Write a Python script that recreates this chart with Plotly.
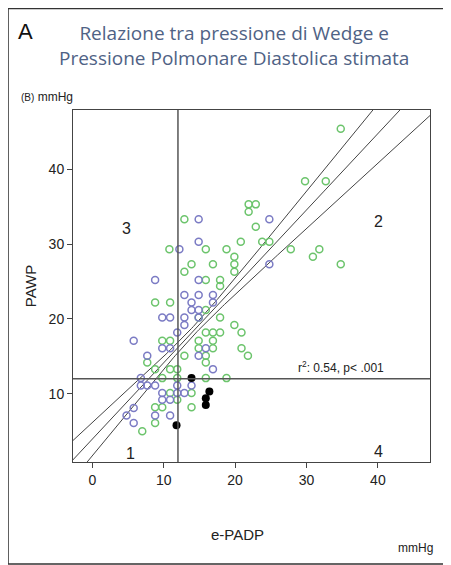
import numpy as np
import plotly.graph_objects as go

# green open circles (e-PADP, PAWP)
green_x = [34.8, 29.8, 32.7, 21.9, 22.9, 21.9, 12.9, 22.9, 10.8, 15.9, 18.8, 20.8, 23.8, 24.8,
           27.8, 30.9, 31.8, 34.8, 19.9, 19.9, 19.9, 13.9, 16.9, 12.9, 15.9, 17.9, 17.9,
           8.8, 10.9, 15.9, 17.9, 19.9, 20.9, 15.9, 16.9, 17.9, 9.8, 10.9, 14.9, 16.9,
           14.9, 16.9, 20.9, 21.8, 12.9, 15.9, 7.7, 15.9, 8.8, 10.9, 11.9, 9.8, 11.9,
           15.9, 18.8, 10.9, 13.9, 11.9, 8.8, 9.8, 13.9, 8.8, 7.0, 14.9]
green_y = [45.4, 38.4, 38.4, 35.3, 35.3, 34.3, 33.3, 32.3, 29.3, 29.3, 29.3, 30.3, 30.3, 30.3,
           29.3, 28.3, 29.3, 27.3, 28.3, 27.3, 26.3, 27.3, 27.3, 26.3, 25.2, 25.2, 24.4,
           22.2, 22.2, 21.2, 20.2, 19.2, 18.2, 18.2, 18.2, 18.2, 17.1, 17.1, 17.1, 17.1,
           16.1, 16.1, 16.1, 15.1, 15.1, 15.1, 14.2, 14.2, 13.3, 13.3, 13.3, 12.1, 12.1,
           12.1, 12.1, 10.1, 10.1, 9.2, 8.2, 8.2, 8.2, 6.1, 5.0, 20.2]

# blue open circles
blue_x = [14.9, 24.8, 14.9, 12.2, 24.8, 8.8, 14.9, 12.9, 14.9, 16.9, 13.9, 16.9, 13.9, 14.9,
          9.8, 10.9, 12.9, 14.9, 12.9, 11.9, 5.8, 9.8, 10.9, 15.9, 7.7, 14.9, 16.9,
          6.8, 6.8, 7.7, 8.8, 11.9, 13.9, 9.8, 11.9, 12.9, 9.8, 10.9, 5.8, 8.8, 10.9, 4.8, 5.8]
blue_y = [33.3, 33.3, 30.3, 29.3, 27.3, 25.2, 25.2, 23.2, 23.2, 23.2, 22.2, 22.2, 21.2, 21.2,
          20.2, 20.2, 20.2, 20.2, 19.2, 18.2, 17.1, 16.1, 16.1, 16.1, 15.1, 15.1, 13.3,
          12.1, 11.1, 11.1, 11.1, 11.1, 11.1, 10.1, 10.1, 10.1, 9.2, 9.2, 8.1, 7.1, 7.1, 7.1, 6.1]

# black filled dots
black_x = [13.9, 16.4, 15.9, 15.9, 11.8]
black_y = [12.1, 10.3, 9.4, 8.5, 5.8]

# regression line and confidence band parameters
intercept = 3.95
slope = 1.02
band_w0 = 0.6
band_k = 0.15
band_xm = 14

green = '#6cc46c'
blue = '#7b7bc4'

xs = np.linspace(-3, 48, 200)
fit = intercept + slope * xs
half = np.sqrt(band_w0 ** 2 + (band_k * (xs - band_xm)) ** 2)

fig = go.Figure()
for yy in [fit + half, fit, fit - half]:
    fig.add_trace(go.Scatter(x=xs, y=yy, mode='lines',
                             line=dict(color='#444', width=1), showlegend=False, hoverinfo='skip'))

fig.add_trace(go.Scatter(x=green_x, y=green_y, mode='markers', showlegend=False,
                         marker=dict(symbol='circle-open', size=7, color=green, line=dict(width=1.5))))
fig.add_trace(go.Scatter(x=blue_x, y=blue_y, mode='markers', showlegend=False,
                         marker=dict(symbol='circle-open', size=7, color=blue, line=dict(width=1.5))))
fig.add_trace(go.Scatter(x=black_x, y=black_y, mode='markers', showlegend=False,
                         marker=dict(symbol='circle', size=8, color='black')))

fig.add_hline(y=12, line_color='#555', line_width=1.5)
fig.add_vline(x=12, line_color='#555', line_width=1.5)

for txt, x, y in [('3', 4.8, 32.1), ('2', 40.1, 33), ('1', 5.3, 2.1), ('4', 40.1, 2.3)]:
    fig.add_annotation(x=x, y=y, text=txt, showarrow=False, font=dict(size=16, color='#222'))
fig.add_annotation(x=34.8, y=13.6, text='r<sup>2</sup>: 0.54, p< .001', showarrow=False,
                   font=dict(size=12, color='#222'))

# text outside the plot area
fig.add_annotation(xref='paper', yref='paper', x=-0.15, y=1.01, xanchor='left', yanchor='bottom',
                   text='<span style="font-size:10px">(B)</span> mmHg', showarrow=False,
                   font=dict(size=12, color='#222'))
fig.add_annotation(xref='paper', yref='paper', x=0.96, y=-0.27, xanchor='center',
                   text='mmHg', showarrow=False, font=dict(size=12, color='#222'))
fig.add_annotation(xref='paper', yref='paper', x=0.46, y=-0.235, xanchor='center',
                   text='e-PADP', showarrow=False, font=dict(size=15, color='#222'))

fig.add_annotation(xref='paper', yref='paper', x=-0.16, y=1.265, xanchor='left',
                   text='A', showarrow=False, font=dict(size=22, color='#111'))
fig.add_annotation(xref='paper', yref='paper', x=0.45, y=1.262, xanchor='center', yanchor='top',
                   text='Relazione tra pressione di Wedge e<br>Pressione Polmonare Diastolica stimata',
                   showarrow=False, font=dict(size=19, color='#4f6285', family='Open Sans'))

fig.add_shape(type='rect', xref='paper', yref='paper', x0=-0.182, x1=1.05, y0=-0.29, y1=1.288,
              line=dict(color='#333', width=1.5))

fig.update_layout(
    width=443, height=557,
    margin=dict(l=65, r=21, t=102, b=103),
    plot_bgcolor='white', paper_bgcolor='white',
    font=dict(family='Liberation Sans, Arial', size=14, color='#222'),
    xaxis=dict(range=[-2.7, 47.3], tickvals=[0, 10, 20, 30, 40], showgrid=False, zeroline=False,
               showline=True, linecolor='#444', mirror=True, ticks='outside', ticklen=5),
    yaxis=dict(range=[0.9, 47.9], tickvals=[0, 10, 20, 30, 40], showgrid=False, zeroline=False,
               showline=True, linecolor='#444', mirror=True, ticks='outside', ticklen=5,
               title=dict(text='PAWP', standoff=8, font=dict(size=15))),
)

fig.write_html('out.html')
